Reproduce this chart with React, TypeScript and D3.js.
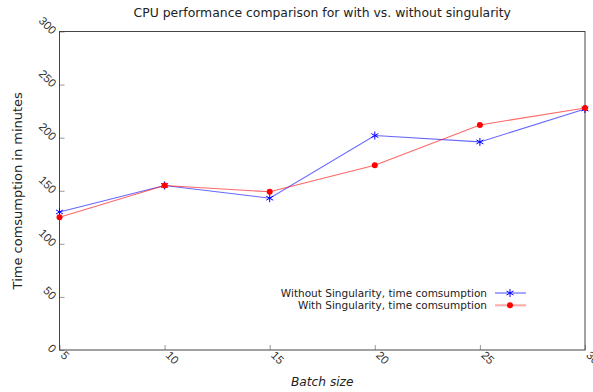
import { useEffect, useRef } from 'react';
import { axisBottom, axisLeft, line, scaleLinear, select, symbol, symbolAsterisk } from 'd3';

const batchSizes = [5, 10, 15, 20, 25, 30];
const withoutSingularity = [130, 155, 143, 202, 196, 227];
const withSingularity = [125, 155, 149, 174, 212, 228];
const yTicks = [0, 50, 100, 150, 200, 250, 300];

const seriesNames = [
  'Without Singularity, time comsumption',
  'With Singularity, time comsumption',
];

export default function App() {
  const ref = useRef<SVGSVGElement>(null);

  useEffect(() => {
    const el = ref.current;
    if (!el) return;
    const left = 59.5,
      right = 585,
      top = 31.5,
      bottom = 350;

    const svg = select(el);
    svg.selectAll('*').remove();
    svg.attr('font-family', 'DejaVu Sans, sans-serif');

    const x = scaleLinear().domain([5, 30]).range([left, right]);
    const y = scaleLinear().domain([0, 300]).range([bottom, top]);

    // title
    svg
      .append('text')
      .attr('x', (left + right) / 2)
      .attr('y', 16.5)
      .attr('text-anchor', 'middle')
      .attr('font-size', 12.4)
      .attr('fill', '#222')
      .text('CPU performance comparison for with vs. without singularity');

    // axes
    const xAxis = svg
      .append('g')
      .attr('transform', `translate(0,${bottom})`)
      .call(axisBottom(x).tickValues(batchSizes).tickSize(-5).tickPadding(0));
    xAxis.select('.domain').remove();
    xAxis.selectAll('line').attr('stroke', '#999');
    xAxis
      .selectAll('text')
      .attr('font-size', 11.5)
      .attr('fill', '#333')
      .attr('text-anchor', 'start')
      .attr('dy', null)
      .attr('y', null)
      .attr('transform', 'translate(0,6) rotate(45)');

    const yAxis = svg
      .append('g')
      .attr('transform', `translate(${left},0)`)
      .call(axisLeft(y).tickValues(yTicks).tickSize(-5).tickPadding(0));
    yAxis.select('.domain').remove();
    yAxis.selectAll('line').attr('stroke', '#999');
    yAxis
      .selectAll('text')
      .attr('font-size', 11.5)
      .attr('fill', '#333')
      .attr('text-anchor', 'end')
      .attr('dy', null)
      .attr('x', null)
      .attr('transform', 'translate(-8,3) rotate(45)');

    // frame
    svg
      .append('rect')
      .attr('x', left)
      .attr('y', top)
      .attr('width', right - left)
      .attr('height', bottom - top)
      .attr('fill', 'none')
      .attr('stroke', '#444')
      .attr('stroke-width', 1);

    // axis labels
    svg
      .append('text')
      .attr('transform', `translate(22,${(top + bottom) / 2}) rotate(-90)`)
      .attr('text-anchor', 'middle')
      .attr('font-size', 13)
      .attr('fill', '#222')
      .text('Time comsumption in minutes');
    svg
      .append('text')
      .attr('x', (left + right) / 2)
      .attr('y', 386)
      .attr('text-anchor', 'middle')
      .attr('font-size', 12.2)
      .attr('font-style', 'italic')
      .attr('fill', '#222')
      .text('Batch size');

    const series = [
      { name: seriesNames[0], values: withoutSingularity, color: '#0000ff', marker: 'star' },
      { name: seriesNames[1], values: withSingularity, color: '#ff0000', marker: 'dot' },
    ];

    const lineGen = line<number>()
      .x((_, i) => x(batchSizes[i]))
      .y((d) => y(d));

    const star = symbol().type(symbolAsterisk).size(45);

    series.forEach((s) => {
      const g = svg.append('g');
      g.append('path')
        .attr('d', lineGen(s.values))
        .attr('fill', 'none')
        .attr('stroke', s.color)
        .attr('stroke-opacity', 0.6)
        .attr('stroke-width', 1.1);
      if (s.marker === 'star') {
        g.selectAll('path.m')
          .data(s.values)
          .join('path')
          .attr('class', 'm')
          .attr('d', star())
          .attr('transform', (d, i) => `translate(${x(batchSizes[i])},${y(d)})`)
          .attr('fill', 'none')
          .attr('stroke', s.color)
          .attr('stroke-width', 1);
      } else {
        g.selectAll('circle')
          .data(s.values)
          .join('circle')
          .attr('cx', (_, i) => x(batchSizes[i]))
          .attr('cy', (d) => y(d))
          .attr('r', 3)
          .attr('fill', s.color);
      }
    });

    // legend
    const legend = svg.append('g');
    series.forEach((s, i) => {
      const ly = 293 + i * 12.3;
      legend
        .append('text')
        .attr('x', 487)
        .attr('y', ly)
        .attr('dy', '0.35em')
        .attr('text-anchor', 'end')
        .attr('font-size', 10.5)
        .attr('fill', '#222')
        .text(s.name);
      legend
        .append('line')
        .attr('x1', 495)
        .attr('x2', 526)
        .attr('y1', ly)
        .attr('y2', ly)
        .attr('stroke', s.color)
        .attr('stroke-opacity', 0.35)
        .attr('stroke-width', 2);
      if (s.marker === 'star') {
        legend
          .append('path')
          .attr('d', star())
          .attr('transform', `translate(510,${ly})`)
          .attr('fill', 'none')
          .attr('stroke', s.color);
      } else {
        legend.append('circle').attr('cx', 510).attr('cy', ly).attr('r', 3).attr('fill', s.color);
      }
    });
  }, []);

  return (
    <svg
      ref={ref}
      width={593}
      height={392}
      style={{ position: 'absolute', left: 0, top: 0, background: 'white' }}
    />
  );
}
